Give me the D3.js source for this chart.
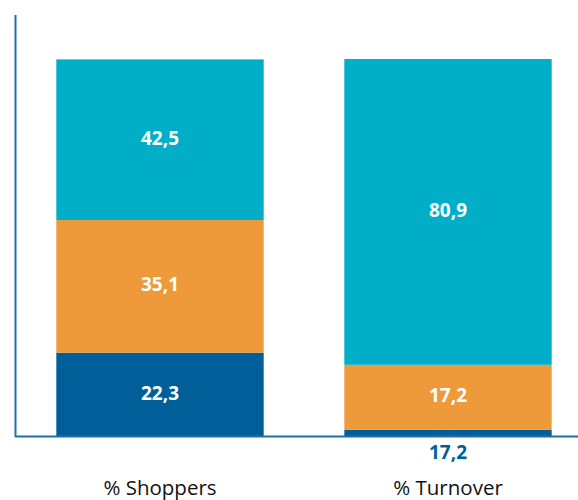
<!DOCTYPE html>
<html>
<head>
<meta charset="utf-8">
<script src="https://cdn.jsdelivr.net/npm/d3@7"></script>
<style>
  body { margin: 0; background: #fff; }
  #chart svg { display: block; }
</style>
</head>
<body>
<div id="chart"></div>
<script>
// data
const categories = ["% Shoppers", "% Turnover"];
const seriesNames = ["bottom", "middle", "top"];
const bottomValues = [22.3, 1.9];
const middleValues = [35.1, 17.2];
const topValues = [42.5, 80.9];
// labels as printed in the source chart
const bottomLabels = ["22,3", "17,2"];
const middleLabels = ["35,1", "17,2"];
const topLabels = ["42,5", "80,9"];

const colors = ["#005f99", "#ef9a3a", "#00afc7"];

const width = 578;
const height = 500;
const font = "'Open Sans', 'Noto Sans', sans-serif";

const rows = categories.map((c, i) => ({
  cat: c,
  bottom: bottomValues[i],
  middle: middleValues[i],
  top: topValues[i],
  labels: [bottomLabels[i], middleLabels[i], topLabels[i]]
}));

const svg = d3.select("#chart")
  .append("svg")
  .attr("width", width)
  .attr("height", height);

const x = d3.scaleBand()
  .domain(categories)
  .range([16, 592])
  .paddingInner(0.28)
  .paddingOuter(0.14);

const y = d3.scaleLinear()
  .domain([0, 100])
  .range([437, 59]);

const stack = d3.stack().keys(seriesNames)(rows);

// bars
const layers = svg.selectAll("g.layer")
  .data(stack)
  .enter()
  .append("g")
  .attr("class", "layer")
  .attr("fill", (d, i) => colors[i]);

layers.selectAll("rect")
  .data(d => d)
  .enter()
  .append("rect")
  .attr("x", d => x(d.data.cat))
  .attr("y", d => y(d[1]))
  .attr("width", x.bandwidth())
  .attr("height", d => y(d[0]) - y(d[1]));

// value labels
stack.forEach((layer, li) => {
  layer.forEach(d => {
    const h = y(d[0]) - y(d[1]);
    const inside = h > 30;
    svg.append("text")
      .attr("x", x(d.data.cat) + x.bandwidth() / 2)
      .attr("y", inside ? (y(d[0]) + y(d[1])) / 2 + 5 : y(d[0]) + 22)
      .attr("text-anchor", "middle")
      .attr("font-family", font)
      .attr("font-weight", "bold")
      .attr("font-size", 19)
      .attr("fill", inside ? "#fff" : colors[li])
      .text(d.data.labels[li]);
  });
});

// axes lines
svg.append("line")
  .attr("x1", 15.5).attr("x2", 15.5)
  .attr("y1", 15).attr("y2", y(0))
  .attr("stroke", "#1f6fad")
  .attr("stroke-width", 2);

svg.append("line")
  .attr("x1", 15).attr("x2", width)
  .attr("y1", y(0) - 0.5).attr("y2", y(0) - 0.5)
  .attr("stroke", "#1f6fad")
  .attr("stroke-width", 2);

// category labels
svg.selectAll("text.cat")
  .data(categories)
  .enter()
  .append("text")
  .attr("class", "cat")
  .attr("x", d => x(d) + x.bandwidth() / 2)
  .attr("y", 495)
  .attr("text-anchor", "middle")
  .attr("font-family", font)
  .attr("font-size", 20.5)
  .attr("fill", "#111")
  .text(d => d);
</script>
</body>
</html>
